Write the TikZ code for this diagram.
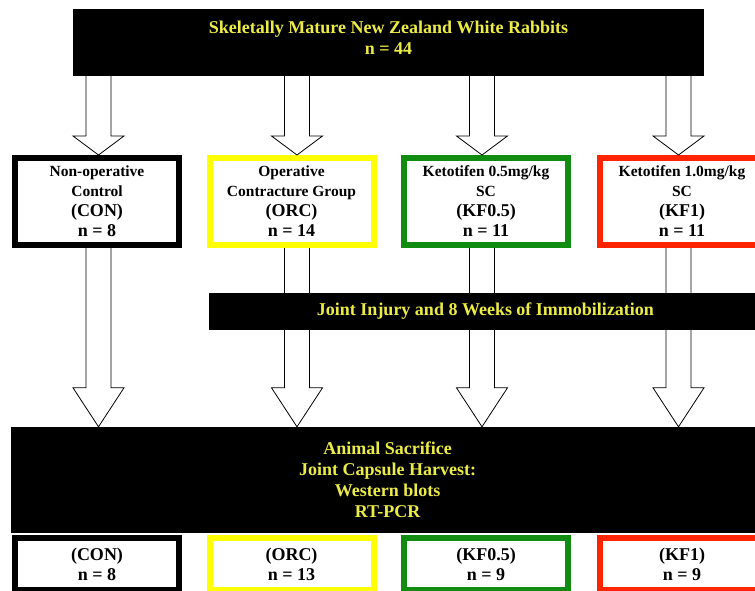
\documentclass[tikz,border=0pt]{standalone}
\usepackage{fontspec}
\setmainfont{Liberation Serif}
\usetikzlibrary{calc}
\definecolor{labelyellow}{RGB}{236,236,70}
\definecolor{orcyellow}{RGB}{255,255,0}
\definecolor{kfgreen}{RGB}{16,140,16}
\definecolor{kfred}{RGB}{255,36,0}
\newcommand\grouplabel{\fontsize{18}{20}\selectfont}
\newcommand\blockarrow[4]{%
  \draw[hollow] let \p1 = (#1.south -| #3,0), \p2 = (#2.north -| #3,0) in
    (\x1-12.5pt,\y1) -- (\x1-12.5pt,\y2+#4) -- (\x1-25.5pt,\y2+#4) -- (\x2,\y2)
    -- (\x1+25.5pt,\y2+#4) -- (\x1+12.5pt,\y2+#4) -- (\x1+12.5pt,\y1);}

\begin{document}
\begin{tikzpicture}[x=1pt, y=-1pt,
  every node/.style = {align=center, inner sep=0pt},
  banner/.style = {fill=black, text=labelyellow,
    font=\bfseries\fontsize{18}{21}\selectfont},
  group/.style = {draw=#1, fill=white, line width=6pt,
    minimum width=164pt, minimum height=87pt,
    font=\bfseries\fontsize{15.5}{20}\selectfont},
  harvested/.style = {group=#1, minimum height=52pt,
    font=\bfseries\fontsize{18}{20}\selectfont},
  hollow/.style = {draw=black, fill=white, line width=0.8pt}]
  \useasboundingbox (0,0) rectangle (755,591);
  \clip (0,0) rectangle (755,591);

  \node[banner, minimum width=631pt, minimum height=67pt, text depth=9pt] (rabbits) at (388.5,42.5)
    {Skeletally Mature New Zealand White Rabbits\\n = 44};

  \node[group=black] (con) at (97,201.5)
    {Non-operative\\Control\\{\grouplabel (CON)}\\{\grouplabel n = 8}};
  \node[group=orcyellow] (orc) at (291.5,201.5)
    {Operative\\Contracture Group\\{\grouplabel (ORC)}\\{\grouplabel n = 14}};
  \node[group=kfgreen] (kflow) at (486,201.5)
    {Ketotifen 0.5mg/kg\\SC\\{\grouplabel (KF0.5)}\\{\grouplabel n = 11}};
  \node[group=kfred] (kfhigh) at (682,201.5)
    {Ketotifen 1.0mg/kg\\SC\\{\grouplabel (KF1)}\\{\grouplabel n = 11}};

  \node[banner, minimum width=754pt, minimum height=106pt] (harvest) at (387.6,480)
    {Animal Sacrifice\\Joint Capsule Harvest:\\Western blots\\RT-PCR};

  \node[harvested=black] (conend) at (97,564) {(CON)\\n = 8};
  \node[harvested=orcyellow] (orcend) at (291.5,564) {(ORC)\\n = 13};
  \node[harvested=kfgreen] (kflowend) at (486,564) {(KF0.5)\\n = 9};
  \node[harvested=kfred] (kfhighend) at (682,564) {(KF1)\\n = 9};

  \foreach \grp/\ax in {con/98.5, orc/297, kflow/482, kfhigh/678.5} {
    \blockarrow{rabbits}{\grp}{\ax}{19pt}
    \blockarrow{\grp}{harvest}{\ax}{39pt}
  }

  \node[banner, minimum width=554pt, minimum height=37pt] (injury) at (485.5,311.5)
    {Joint Injury and 8 Weeks of Immobilization};
\end{tikzpicture}
\end{document}
